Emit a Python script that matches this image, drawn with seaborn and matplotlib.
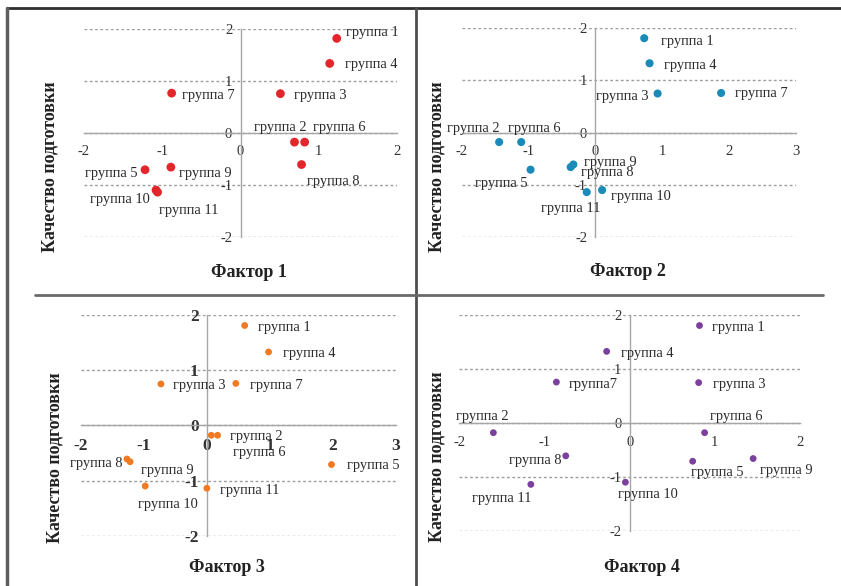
import matplotlib
matplotlib.use("Agg")
import matplotlib.pyplot as plt
from matplotlib.lines import Line2D
import seaborn as sns
import pandas as pd

# --- data -----------------------------------------------------------------
groups = ["группа 1", "группа 2", "группа 3", "группа 4", "группа 5", "группа 6",
          "группа 7", "группа 8", "группа 9", "группа 10", "группа 11"]
labels4 = ["группа 1", "группа 2", "группа 3", "группа 4", "группа 5", "группа 6",
           "группа7", "группа 8", "группа 9", "группа 10", "группа 11"]
quality = [1.81, -0.18, 0.75, 1.33, -0.71, -0.18, 0.76, -0.61, -0.66, -1.10, -1.14]
factor1 = [1.23, 0.69, 0.51, 1.14, -1.22, 0.82, -0.88, 0.78, -0.89, -1.08, -1.06]
factor2 = [0.73, -1.44, 0.93, 0.81, -0.97, -1.11, 1.88, -0.33, -0.37, 0.10, -0.13]
factor3 = [0.60, 0.07, -0.73, 0.98, 1.98, 0.17, 0.46, -1.27, -1.22, -0.98, 0.00]
factor4 = [0.82, -1.60, 0.81, -0.27, 0.74, 0.88, -0.86, -0.75, 1.45, -0.05, -1.16]
xticks_a = [-2, -1, 0, 1, 2]
xticks_b = [-2, -1, 0, 1, 2, 3]
yticks = [-2, -1, 0, 1, 2]

sns.set_style("white")
plt.rcParams["font.family"] = ["Liberation Serif", "DejaVu Serif"]
plt.rcParams["axes.unicode_minus"] = False

W, H = 841, 586
fig = plt.figure(figsize=(W / 100, H / 100), dpi=100)
fig.patch.set_facecolor("white")


def fx(px):
    return px / W


def fy(py):
    return 1 - py / H


# label placement: (dx, dy in pixels, horizontal alignment)
offsets1 = [(9, 6, "left"), (-14, 15, "center"), (14, -2, "left"), (15, -1, "left"),
            (-8, -4, "right"), (8, 15, "left"), (10, -2, "left"), (5, -17, "left"),
            (8, -6, "left"), (-6, -9, "right"), (1, -18, "left")]
offsets2 = [(17, -3, "left"), (-26, 14, "center"), (-9, -3, "right"), (14, -2, "left"),
            (-3, -14, "right"), (13, 14, "center"), (14, -1, "left"), (8, -8, "left"),
            (13, 5, "left"), (9, -6, "left"), (-16, -16, "center")]
offsets3 = [(13, -2, "left"), (19, -1, "left"), (12, -2, "left"), (14, -2, "left"),
            (15, -1, "left"), (15, -17, "left"), (14, -2, "left"), (-4, -4, "right"),
            (11, -9, "left"), (23, -18, "center"), (13, -2, "left")]
offsets4 = [(13, -2, "left"), (-11, 16, "center"), (14, -2, "left"), (14, -2, "left"),
            (25, -11, "center"), (32, 16, "center"), (12, -2, "left"), (-4, -5, "right"),
            (7, -12, "left"), (22, -12, "center"), (-29, -14, "center")]

panels = [
    dict(x=factor1, labels=groups, xticks=xticks_a, box=(84, 28.5, 397, 237),
         color="#e3262b", size=40, offs=offsets1, title="Фактор 1",
         xl=(249, 273), yl=(50, 167), tsize=10.5, tweight="normal"),
    dict(x=factor2, labels=groups, xticks=xticks_b, box=(461.7, 28.3, 796, 237),
         color="#1a8bb8", size=34, offs=offsets2, title="Фактор 2",
         xl=(628, 272), yl=(437, 167), tsize=10.5, tweight="normal"),
    dict(x=factor3, labels=groups, xticks=xticks_b, box=(81, 315, 395.7, 535.7),
         color="#f07a22", size=24, offs=offsets3, title="Фактор 3",
         xl=(227, 567), yl=(55, 458), tsize=12.5, tweight="bold"),
    dict(x=factor4, labels=labels4, xticks=xticks_a, box=(459.3, 315.3, 800, 530.7),
         color="#7b3f9e", size=24, offs=offsets4, title="Фактор 4",
         xl=(642, 567), yl=(437, 457), tsize=10.5, tweight="normal"),
]

for p in panels:
    l, t, r, b = p["box"]
    ax = fig.add_axes([fx(l), fy(b), (r - l) / W, (b - t) / H])
    ax.set_facecolor("none")
    df = pd.DataFrame({"f": p["x"], "q": quality, "g": p["labels"]})
    sns.scatterplot(data=df, x="f", y="q", ax=ax, color=p["color"], s=p["size"],
                    edgecolor="none", linewidth=0, zorder=4, clip_on=False)
    ax.set_xlim(p["xticks"][0], p["xticks"][-1])
    ax.set_ylim(-2, 2)
    ax.set_xticks(p["xticks"])
    ax.set_yticks(yticks)
    ax.set_xlabel("")
    ax.set_ylabel("")

    ax.grid(axis="y", color="#9e9e9e", linestyle=(0, (2.0, 1.8)), linewidth=1.0)
    ax.grid(axis="x", visible=False)
    for gl in ax.get_ygridlines():
        gl.set_clip_on(False)
    ax.set_axisbelow(True)

    for side in ("top", "right"):
        ax.spines[side].set_visible(False)
    for side in ("left", "bottom"):
        ax.spines[side].set_position(("data", 0))
        ax.spines[side].set_color("#a6a6a6")
        ax.spines[side].set_linewidth(1.0)
        ax.spines[side].set_zorder(2)
    ax.tick_params(axis="x", direction="out", length=3, width=0.8, color="#a6a6a6",
                   pad=6, labelsize=p["tsize"], labelcolor="#333333")
    ax.tick_params(axis="y", direction="out", length=3, width=0.8, color="#a6a6a6",
                   pad=3, labelsize=p["tsize"], labelcolor="#333333")
    for tl in ax.get_xticklabels() + ax.get_yticklabels():
        tl.set_fontweight(p["tweight"])

    for xv, yv, txt, (dx, dy, ha) in zip(p["x"], quality, p["labels"], p["offs"]):
        ax.annotate(txt, (xv, yv), xytext=(dx, dy), textcoords="offset pixels",
                    ha=ha, va="center", fontsize=10.4, color="#2a2a2a",
                    annotation_clip=False, zorder=5)

    fig.text(fx(p["xl"][0]), fy(p["xl"][1]), p["title"], ha="center", va="center",
             fontsize=13, fontweight="bold", color="#222222")
    fig.text(fx(p["yl"][0]), fy(p["yl"][1]), "Качество подготовки", ha="center",
             va="center", rotation=90, fontsize=13, fontweight="bold", color="#222222")

# frame and dividers between the four charts
frame = [
    ((7, 841), (8, 8), "#2e2e2e", 2.0),
    ((7, 7), (8, 586), "#5e5e5e", 2.5),
    ((415.7, 415.7), (8, 586), "#4e4e4e", 2.0),
    ((35, 823), (295, 295), "#6a6a6a", 2.0),
]
for xs, ys, c, lw in frame:
    fig.add_artist(Line2D([fx(v) for v in xs], [fy(v) for v in ys], color=c,
                          linewidth=lw, transform=fig.transFigure))

fig.savefig("out.png", dpi=100, facecolor="white")
